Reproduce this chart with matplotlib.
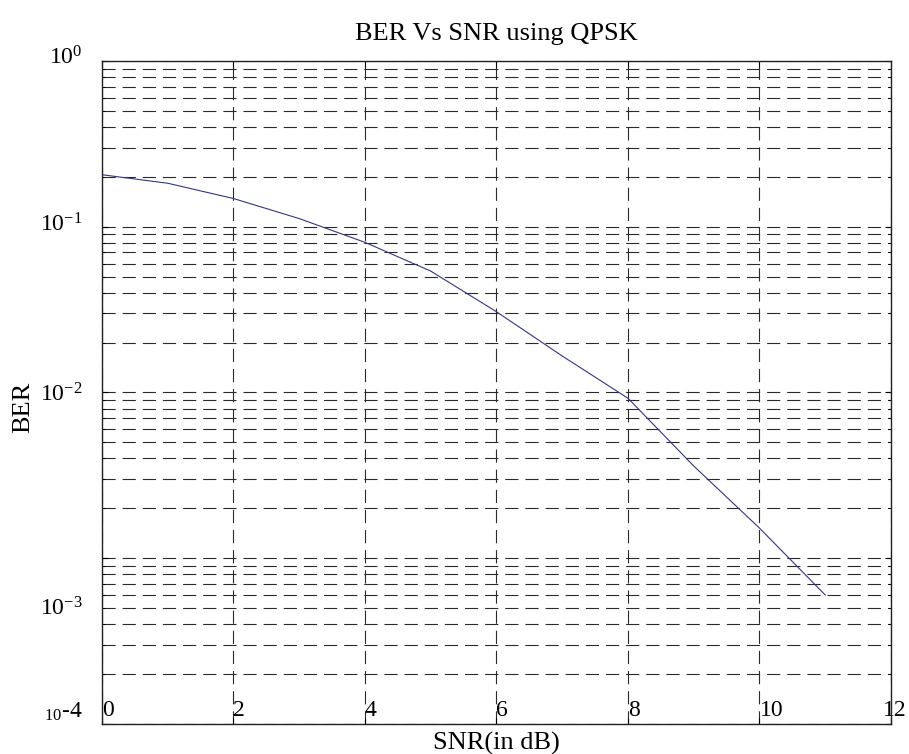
import matplotlib
matplotlib.use('Agg')
import matplotlib.pyplot as plt
import matplotlib.transforms as mtransforms
from matplotlib.ticker import LogLocator, NullFormatter

# ---- data ----
snr_db = [0, 1, 2, 3, 4, 5, 6, 7, 8, 9, 10, 11]
ber = [0.206, 0.183, 0.148, 0.112, 0.0805, 0.054, 0.0307, 0.0166,
       0.00923, 0.0036, 0.00152, 0.0006]

x_ticks = [0, 2, 4, 6, 8, 10, 12]
x_tick_labels = ['0', '2', '4', '6', '8', '10', '12']
y_ticks = [1e-4, 1e-3, 1e-2, 1e-1, 1e0]
y_tick_labels = [r'$\mathregular{{}_{10}}$-4', r'$\mathregular{10^{-3}}$',
                 r'$\mathregular{10^{-2}}$', r'$\mathregular{10^{-1}}$',
                 r'$\mathregular{10^{0}}$']

plt.rcParams['font.family'] = ['Liberation Serif', 'DejaVu Serif']
plt.rcParams['mathtext.fontset'] = 'custom'
plt.rcParams['mathtext.rm'] = 'Liberation Serif'
plt.rcParams['lines.scale_dashes'] = False

fig = plt.figure(figsize=(9.09, 7.54), dpi=100)
ax = fig.add_axes([0.1122, 0.0398, 0.868, 0.8793])

ax.semilogy(snr_db, ber, color='#34348a', lw=0.8)

ax.set_xlim(0, 12)
ax.set_ylim(1e-4, 1)

# grid, MATLAB style
ax.yaxis.set_major_locator(LogLocator(base=10))
ax.yaxis.set_minor_locator(LogLocator(base=10, subs=range(2, 10)))
ax.yaxis.set_minor_formatter(NullFormatter())
ax.grid(True, which='both', axis='y', color='#2a2a2a', lw=0.8, linestyle=(0, (9.5, 5)))
ax.grid(True, which='major', axis='x', color='#2a2a2a', lw=0.8, linestyle=(0, (9.5, 5)))

ax.set_xticks(x_ticks)
ax.set_xticklabels(x_tick_labels, ha='left')
ax.set_yticks(y_ticks)
ax.set_yticklabels(y_tick_labels)

ax.tick_params(axis='x', direction='in', length=4, pad=-17.5, labelsize=17)
ax.tick_params(axis='y', which='both', direction='in', length=4, right=True,
               pad=14, labelsize=17)
ax.tick_params(axis='y', which='minor', length=2)
ax.tick_params(top=True)

for s in ax.spines.values():
    s.set_linewidth(1.0)
    s.set_color('#222222')

# the labels in the source image sit in odd places
def shift(lbl, dx, dy):
    lbl.set_transform(lbl.get_transform() +
                      mtransforms.ScaledTranslation(dx / 100, dy / 100, fig.dpi_scale_trans))

xl = ax.get_xticklabels()
shift(xl[-1], -8, 0)
yl = ax.get_yticklabels()
shift(yl[0], 0, 15)
shift(yl[1], 0, -48)
shift(yl[3], 0, 4)
shift(yl[4], 0, 6)

ax.set_title('BER Vs SNR using QPSK', fontsize=19, pad=15)
ax.set_xlabel('SNR(in dB)', fontsize=19, labelpad=6)
ax.set_ylabel('BER', fontsize=19, labelpad=4, y=0.477)

fig.savefig('out.png', dpi=100)
